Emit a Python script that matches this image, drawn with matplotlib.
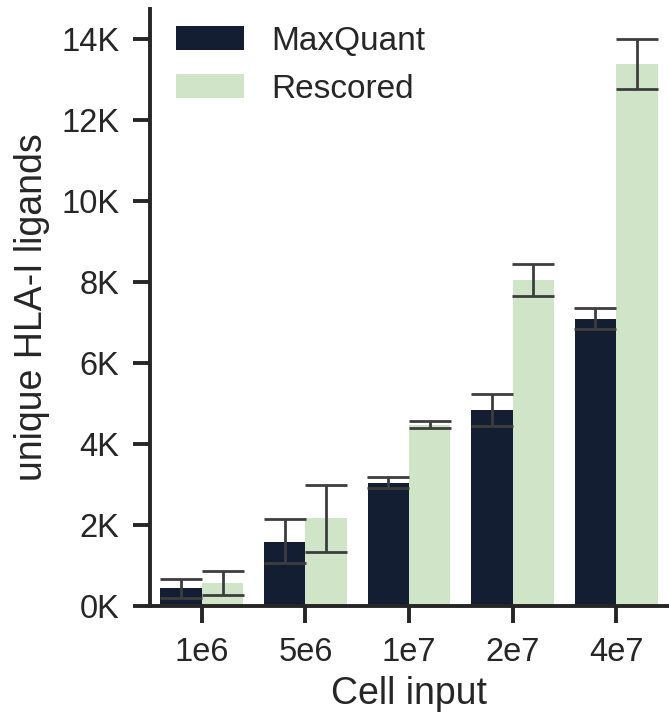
import numpy as np
import matplotlib
matplotlib.use("Agg")
import matplotlib.pyplot as plt
from matplotlib.ticker import FuncFormatter

plt.rcParams.update({
    "font.family": ["Liberation Sans", "DejaVu Sans"],
    "font.size": 24,
    "text.color": "#262626",
    "axes.labelcolor": "#262626",
    "xtick.color": "#262626",
    "ytick.color": "#262626",
    "axes.edgecolor": "#262626",
})

cell_inputs = ["1e6", "5e6", "1e7", "2e7", "4e7"]
series = ["MaxQuant", "Rescored"]

maxquant = [440, 1590, 3030, 4840, 7090]
maxquant_lo = [190, 1055, 2920, 4440, 6850]
maxquant_hi = [675, 2150, 3190, 5240, 7370]

rescored = [576, 2175, 4470, 8060, 13390]
rescored_lo = [280, 1335, 4410, 7650, 12780]
rescored_hi = [870, 3000, 4580, 8460, 14000]

colors = ["#141e33", "#d0e5c8"]

fig = plt.figure(figsize=(6.69, 7.14), dpi=100)
ax = fig.add_axes([150 / 669, 1 - 606 / 714, 518 / 669, 597 / 714])

x = np.arange(len(cell_inputs))
width = 0.4
for i, (vals, lo, hi) in enumerate([(maxquant, maxquant_lo, maxquant_hi),
                                    (rescored, rescored_lo, rescored_hi)]):
    pos = x + (i - 0.5) * width
    vals = np.array(vals)
    ax.bar(pos, vals, width=width, color=colors[i], label=series[i], zorder=2)
    yerr = np.vstack([vals - np.array(lo), np.array(hi) - vals])
    ax.errorbar(pos, vals, yerr=yerr, fmt="none", ecolor="#3d3d3d",
                elinewidth=2.0, capsize=15, capthick=2.0, zorder=3)

ax.set_xlim(-0.5, 4.5)
ax.set_ylim(0, 14750)
ax.set_yticks(np.arange(0, 14001, 2000))
ax.yaxis.set_major_formatter(FuncFormatter(lambda v, p: f"{int(v / 1000)}K"))
ax.set_xticks(x)
ax.set_xticklabels(cell_inputs)

ax.set_xlabel("Cell input", fontsize=27, labelpad=6)
ax.set_ylabel("unique HLA-I ligands", fontsize=27, labelpad=8)

for s in ["top", "right"]:
    ax.spines[s].set_visible(False)
for s in ["left", "bottom"]:
    ax.spines[s].set_linewidth(2.8)
ax.tick_params(width=2.8, length=12, labelsize=23.5)
ax.tick_params(axis="x", pad=10)
ax.tick_params(axis="y", pad=10)

ax.legend(loc="upper left", frameon=False, handlelength=2.03, handleheight=0.73,
          handletextpad=0.82, labelspacing=0.52, borderpad=0.4, borderaxespad=0.39,
          fontsize=24, bbox_to_anchor=(0.0, 1.016))

fig.savefig("out.png", dpi=100)
